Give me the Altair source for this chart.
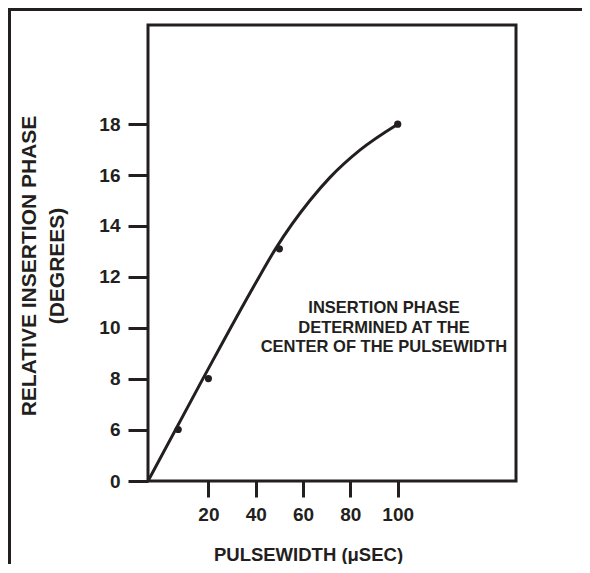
import altair as alt
import pandas as pd

# curve (pulsewidth in usec, phase in degrees)
curve_x = [0, 18.2, 40.1, 48.5, 62.9, 71.4, 84.0, 100]
curve_y = [0, 8.0, 11.78, 13.12, 15.0, 15.91, 16.98, 18]

# measured points
pts_x = [10, 20, 50, 100]
pts_y = [6, 8, 13.1, 18]

x_ticks = [20, 40, 60, 80, 100]
y_ticks = [0, 6, 8, 10, 12, 14, 16, 18]

note_lines = ["INSERTION PHASE", "DETERMINED AT THE", "CENTER OF THE PULSEWIDTH"]
y_title_lines = ["RELATIVE INSERTION PHASE", "(DEGREES)"]
x_title = "PULSEWIDTH (\u03bcSEC)"

INK = "#231f20"
FONT = "Liberation Sans"
W, H = 368, 456

curve = pd.DataFrame({"x": curve_x, "y": curve_y})
pts = pd.DataFrame({"x": pts_x, "y": pts_y})
one = pd.DataFrame({"a": [0]})

xscale = alt.Scale(domain=[0, 20, 150], range=[0, 60.4, W], nice=False, zero=False)
yscale = alt.Scale(domain=[0, 6, 21.9], range=[H, H - 51.5, 0], nice=False, zero=False)

xaxis = alt.Axis(values=x_ticks, title=None, domain=False, grid=False, tickSize=16,
                 tickWidth=3, tickColor=INK, labelFont=FONT, labelFontWeight="bold",
                 labelFontSize=19, labelColor=INK, labelPadding=8)
yaxis = alt.Axis(values=y_ticks, title=None, domain=False, grid=False, tickSize=20,
                 tickWidth=3, tickColor=INK, labelFont=FONT, labelFontWeight="bold",
                 labelFontSize=19, labelColor=INK, labelPadding=8)

line = alt.Chart(curve).mark_line(color=INK, strokeWidth=3, interpolate="monotone").encode(
    x=alt.X("x:Q", scale=xscale, axis=xaxis),
    y=alt.Y("y:Q", scale=yscale, axis=yaxis),
)
dots = alt.Chart(pts).mark_circle(color=INK, size=52, opacity=1).encode(
    x=alt.X("x:Q", scale=xscale),
    y=alt.Y("y:Q", scale=yscale),
)

layers = [line, dots]

# annotation text
for i, t in enumerate(note_lines):
    layers.append(alt.Chart(one).mark_text(text=t, font=FONT, fontWeight="bold", fontSize=16.5,
                                           color=INK, align="center", baseline="middle").encode(
        x=alt.value(236), y=alt.value(283 + i * 19.5)))

# y title (two rotated lines)
for i, t in enumerate(y_title_lines):
    layers.append(alt.Chart(one).mark_text(text=t, font=FONT, fontWeight="bold", fontSize=21,
                                           color=INK, align="center", baseline="middle", angle=270).encode(
        x=alt.value(-118 + i * 28), y=alt.value(241)))

# x title
layers.append(alt.Chart(one).mark_text(text=x_title, font=FONT, fontWeight="bold", fontSize=18.5,
                                       color=INK, align="center", baseline="middle").encode(
    x=alt.value(160.5), y=alt.value(530)))

# outer frame (top and left)
layers.append(alt.Chart(one).mark_rule(color=INK, strokeWidth=3).encode(
    x=alt.value(-140), x2=alt.value(434), y=alt.value(-15.5)))
layers.append(alt.Chart(one).mark_rule(color=INK, strokeWidth=3).encode(
    x=alt.value(-138.5), y=alt.value(-17), y2=alt.value(548)))

chart = alt.layer(*layers).properties(
    width=W, height=H,
    autosize=alt.AutoSizeParams(type="none"),
    padding={"left": 140, "top": 17, "right": 66, "bottom": 83},
).configure(
    background="white",
    view=alt.ViewConfig(stroke=INK, strokeWidth=3),
)

chart.save("out.html", embed_options={"renderer": "svg", "actions": False})
